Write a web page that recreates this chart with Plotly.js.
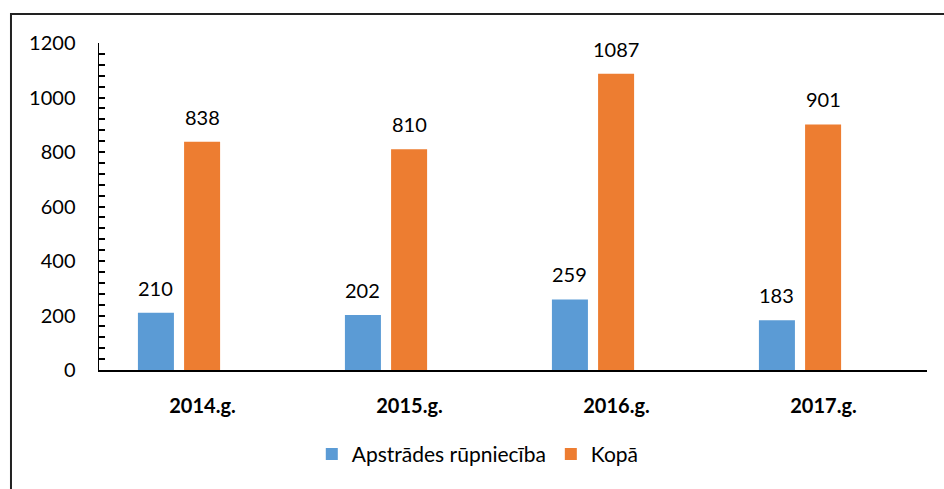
<!DOCTYPE html>
<html>
<head>
<meta charset="utf-8">
<script src="https://cdn.plot.ly/plotly-3.0.1.min.js"></script>
<style>
html,body{margin:0;padding:0;background:#fff;}
#chart{width:944px;height:489px;}
</style>
</head>
<body>
<div id="chart"></div>
<script>
const categories = ["2014.g.", "2015.g.", "2016.g.", "2017.g."];
const seriesNames = ["Apstrādes rūpniecība", "Kopā"];
const manufacturing = [210, 202, 259, 183];
const total = [838, 810, 1087, 901];
const yTicks = [0, 200, 400, 600, 800, 1000, 1200];

const colors = ["#5B9BD5", "#ED7D31"];
const barWidth = 0.174;
const offsets = [-0.312, -0.089];
const FONT = "Lato, 'Liberation Sans', sans-serif";

const series = [manufacturing, total];
const traces = series.map((vals, s) => ({
  type: "bar",
  name: seriesNames[s],
  x: categories,
  y: vals,
  width: vals.map(() => barWidth),
  offset: vals.map(() => offsets[s]),
  marker: {color: colors[s], line: {width: 0}},
  hoverinfo: "x+y+name"
}));

const annotations = [];
series.forEach((vals, s) => {
  vals.forEach((v, i) => {
    annotations.push({
      x: i + offsets[s] + barWidth / 2,
      y: v,
      xref: "x", yref: "y",
      text: String(v),
      showarrow: false,
      yanchor: "middle",
      yshift: 25,
      font: {family: FONT, size: 20, color: "#000"}
    });
  });
});

const layout = {
  width: 944, height: 489,
  margin: {l: 99, r: 17, t: 43, b: 118.5, pad: 0},
  paper_bgcolor: "#fff",
  plot_bgcolor: "#fff",
  showlegend: true,
  legend: {
    orientation: "h",
    x: 0.257, xanchor: "left",
    y: -0.258, yanchor: "middle",
    font: {family: FONT, size: 21, color: "#000"},
    itemwidth: 30,
    traceorder: "normal"
  },
  xaxis: {
    type: "category",
    range: [-0.5, 3.5],
    showline: true, linecolor: "#000", linewidth: 2,
    ticks: "", showgrid: false, zeroline: false,
    tickfont: {family: FONT, size: 20, color: "#000", weight: "bold"},
    ticklabelstandoff: 17,
    fixedrange: true
  },
  yaxis: {
    range: [0, 1200],
    tickvals: yTicks,
    ticktext: yTicks.map(String),
    showline: true, linecolor: "#000", linewidth: 1.5,
    ticks: "inside", ticklen: 6, tickwidth: 2, tickcolor: "#000",
    minor: {dtick: 40, tick0: 0, ticks: "inside", ticklen: 6, tickwidth: 2, tickcolor: "#000", showgrid: false},
    showgrid: false, zeroline: false,
    tickfont: {family: FONT, size: 20, color: "#000"},
    ticklabelstandoff: 18,
    fixedrange: true
  },
  annotations: annotations,
  shapes: [{
    type: "rect", xref: "paper", yref: "paper",
    x0: -0.1063, x1: 1.2, y0: -0.5, y1: 1.0885,
    line: {color: "#222", width: 2},
    fillcolor: "rgba(0,0,0,0)",
    layer: "above"
  }]
};

Plotly.newPlot("chart", traces, layout, {displayModeBar: false, staticPlot: true});
</script>
</body>
</html>
